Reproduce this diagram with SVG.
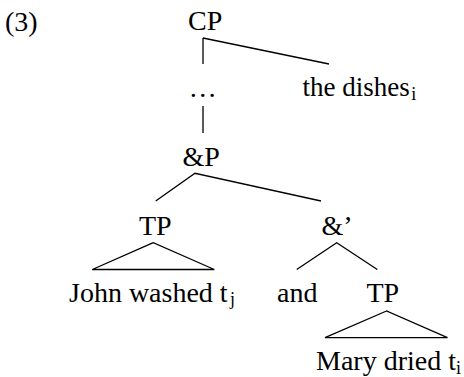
<svg xmlns="http://www.w3.org/2000/svg" width="464" height="377" viewBox="0 0 464 377">
<style>
text{font-family:"Liberation Serif","Times New Roman",serif;font-size:28px;fill:#000}
.sub{font-size:18px}
.e{stroke:#000;stroke-width:1.3;fill:none;stroke-linejoin:miter}
</style>
<rect width="464" height="377" fill="#fff"/>
<g id="label"><text x="5" y="31">(3)</text></g>
<g id="connectors">
<path class="e" d="M203,38 V64 M203,38 L329,64"/>
<path class="e" d="M203,106 V133"/>
<path class="e" d="M155.7,201 L195,173.3 L321,201"/>
<path class="e" d="M153.3,242.7 L92.3,269.5 H214.3 Z"/>
<path class="e" d="M296.7,269.5 L336.7,242.7 L377.3,269.5"/>
<path class="e" d="M386.5,311 L325,337.7 H447.5 Z"/>
</g>
<g id="CP"><text x="188" y="30">CP</text></g>
<g id="dots"><text x="202.7" y="97" text-anchor="middle">…</text></g>
<g id="the-dishes"><text x="302.5" y="96" style="font-size:27px">the dishes</text><text class="sub" x="411.2" y="100">i</text></g>
<g id="andP"><text x="182.5" y="166">&amp;P</text></g>
<g id="TP1"><text x="139" y="235">TP</text></g>
<g id="andBar"><text x="321.5" y="235">&amp;’</text></g>
<g id="john"><text x="69" y="302">John washed t</text><text class="sub" x="230" y="305">j</text></g>
<g id="and"><text x="277" y="302">and</text></g>
<g id="TP2"><text x="366.5" y="302">TP</text></g>
<g id="mary"><text x="316" y="370">Mary dried t</text><text class="sub" x="456" y="374">i</text></g>
</svg>
